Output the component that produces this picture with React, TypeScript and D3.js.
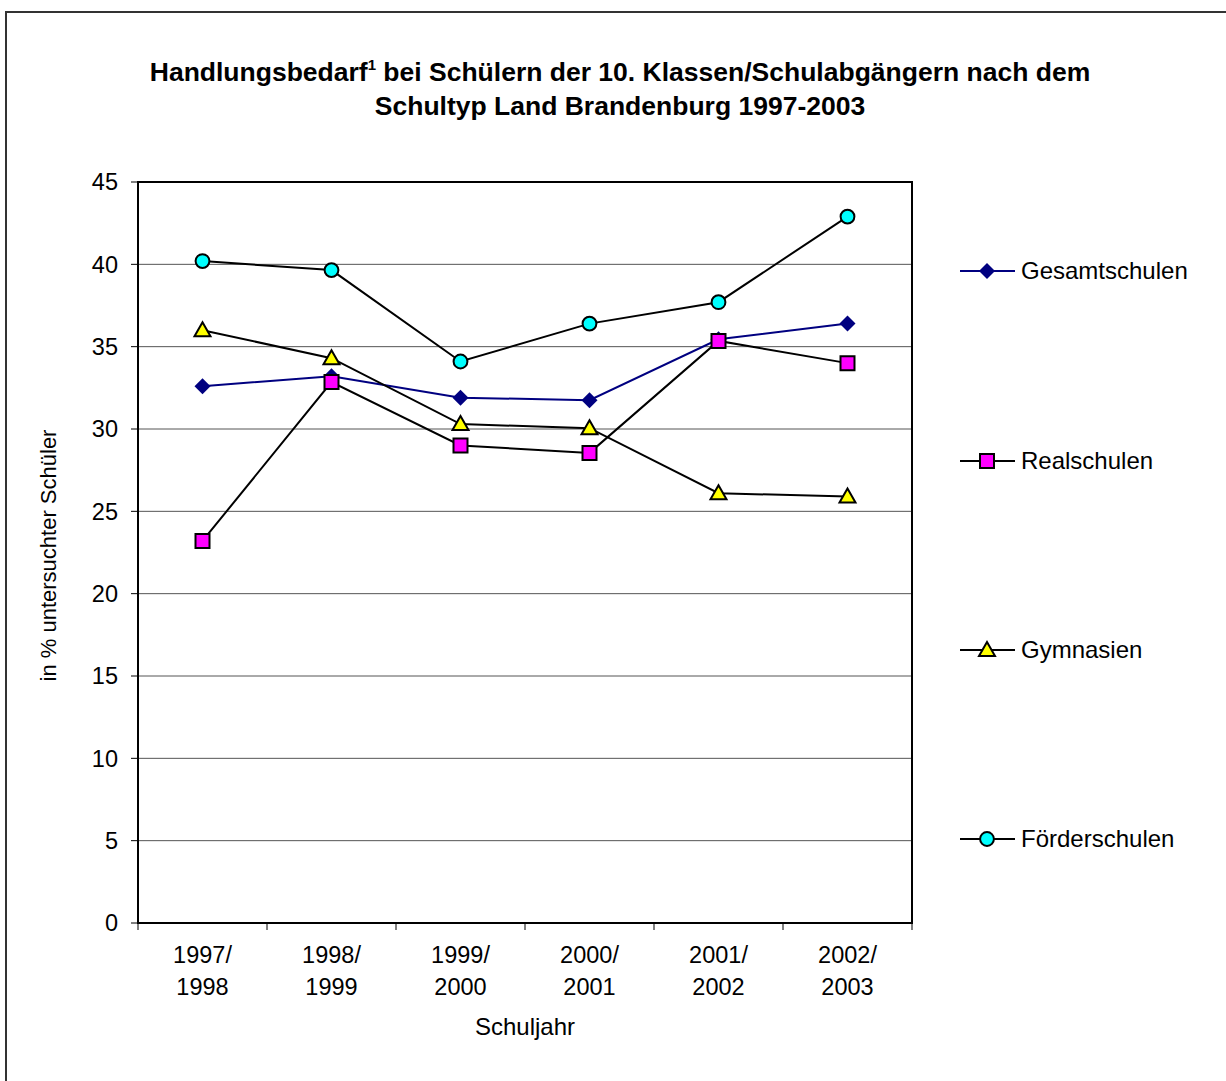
import { useMemo } from "react";
import * as d3 from "d3";

const CATEGORIES = ["1997/1998", "1998/1999", "1999/2000", "2000/2001", "2001/2002", "2002/2003"];
const Y_TICKS = [0, 5, 10, 15, 20, 25, 30, 35, 40, 45];

const GESAMTSCHULEN = [32.6, 33.2, 31.9, 31.75, 35.45, 36.4];
const REALSCHULEN = [23.2, 32.85, 29.0, 28.55, 35.35, 34.0];
const GYMNASIEN = [36.0, 34.3, 30.3, 30.05, 26.1, 25.9];
const FOERDERSCHULEN = [40.2, 39.65, 34.1, 36.4, 37.7, 42.9];

const SERIES = [
  { name: "Gesamtschulen", values: GESAMTSCHULEN, line: "#000080", fill: "#000080", stroke: "#000080", shape: "diamond" },
  { name: "Realschulen", values: REALSCHULEN, line: "#000000", fill: "#FF00FF", stroke: "#000000", shape: "square" },
  { name: "Gymnasien", values: GYMNASIEN, line: "#000000", fill: "#FFFF00", stroke: "#000000", shape: "triangle" },
  { name: "Förderschulen", values: FOERDERSCHULEN, line: "#000000", fill: "#00FFFF", stroke: "#000000", shape: "circle" },
];

const FONT = "Arial, 'Liberation Sans', sans-serif";

function markerPath(shape: string): string {
  switch (shape) {
    case "diamond":
      return "M0,-8L8,0L0,8L-8,0Z";
    case "square":
      return "M-7,-7H7V7H-7Z";
    case "triangle":
      return "M0,-8L8,6H-8Z";
    default:
      return d3.symbol(d3.symbolCircle, 150)() || "";
  }
}

export default function App() {
  const W = 1226;
  const H = 1081;
  const m = { left: 138, top: 182, right: 912, bottom: 923 };

  const x = useMemo(
    () => d3.scaleBand<string>().domain(CATEGORIES).range([m.left, m.right]),
    []
  );
  const y = useMemo(() => d3.scaleLinear().domain([0, 45]).range([m.bottom, m.top]), []);
  const cx = (c: string) => (x(c) ?? 0) + x.bandwidth() / 2;

  const line = d3
    .line<number>()
    .x((_, i) => cx(CATEGORIES[i]))
    .y((d) => y(d));

  const legendY = [271, 461, 650, 839];

  return (
    <svg
      width={W}
      height={H}
      style={{ position: "absolute", left: 0, top: 0, background: "#fff" }}
      fontFamily={FONT}
    >
      <rect x={6} y={12} width={W + 10} height={H + 10} fill="#fff" stroke="#333" strokeWidth={2} />

      {/* title */}
      <text x={620} y={81} textAnchor="middle" fontSize={26.5} fontWeight="bold">
        Handlungsbedarf<tspan fontSize={15} dy={-11}>1</tspan>
        <tspan dy={11}> bei Schülern der 10. Klassen/Schulabgängern nach dem</tspan>
      </text>
      <text x={620} y={115} textAnchor="middle" fontSize={26.5} fontWeight="bold">
        Schultyp Land Brandenburg 1997-2003
      </text>

      {/* gridlines */}
      {Y_TICKS.filter((t) => t > 0 && t < 45).map((t) => (
        <line key={t} x1={m.left} x2={m.right} y1={y(t)} y2={y(t)} stroke="#555" strokeWidth={1} />
      ))}

      {/* plot frame */}
      <rect
        x={m.left}
        y={m.top}
        width={m.right - m.left}
        height={m.bottom - m.top}
        fill="none"
        stroke="#000"
        strokeWidth={2}
      />

      {/* y ticks */}
      {Y_TICKS.map((t) => (
        <g key={t}>
          <line x1={m.left - 7} x2={m.left} y1={y(t)} y2={y(t)} stroke="#000" />
          <text x={118} y={y(t)} dy="0.35em" textAnchor="end" fontSize={23.5}>
            {t}
          </text>
        </g>
      ))}

      {/* x ticks */}
      {CATEGORIES.concat([""]).map((c, i) => {
        const xx = m.left + i * x.bandwidth();
        return <line key={i} x1={xx} x2={xx} y1={m.bottom} y2={m.bottom + 7} stroke="#000" />;
      })}
      {CATEGORIES.map((c) => {
        const [a, b] = c.split("/");
        return (
          <text key={c} x={cx(c)} textAnchor="middle" fontSize={23.5}>
            <tspan x={cx(c)} y={963}>{a}/</tspan>
            <tspan x={cx(c)} y={995}>{b}</tspan>
          </text>
        );
      })}

      <text x={525} y={1035} textAnchor="middle" fontSize={24}>
        Schuljahr
      </text>
      <text
        transform={`translate(56,${(m.top + m.bottom) / 2 + 3}) rotate(-90)`}
        textAnchor="middle"
        fontSize={22}
      >
        in % untersuchter Schüler
      </text>

      {/* series */}
      {SERIES.map((s) => (
        <path key={s.name} d={line(s.values) || ""} fill="none" stroke={s.line} strokeWidth={2} />
      ))}
      {SERIES.map((s) =>
        s.values.map((v, i) => (
          <path
            key={s.name + i}
            d={markerPath(s.shape)}
            transform={`translate(${cx(CATEGORIES[i])},${y(v)})`}
            fill={s.fill}
            stroke={s.stroke}
            strokeWidth={s.shape === "diamond" ? 0 : 2}
          />
        ))
      )}

      {/* legend */}
      {SERIES.map((s, i) => (
        <g key={s.name} transform={`translate(987,${legendY[i]})`}>
          <line x1={-27} x2={28} stroke={s.line} strokeWidth={2} />
          <path
            d={markerPath(s.shape)}
            fill={s.fill}
            stroke={s.stroke}
            strokeWidth={s.shape === "diamond" ? 0 : 2}
          />
          <text x={34} dy="0.35em" fontSize={24}>
            {s.name}
          </text>
        </g>
      ))}
    </svg>
  );
}
